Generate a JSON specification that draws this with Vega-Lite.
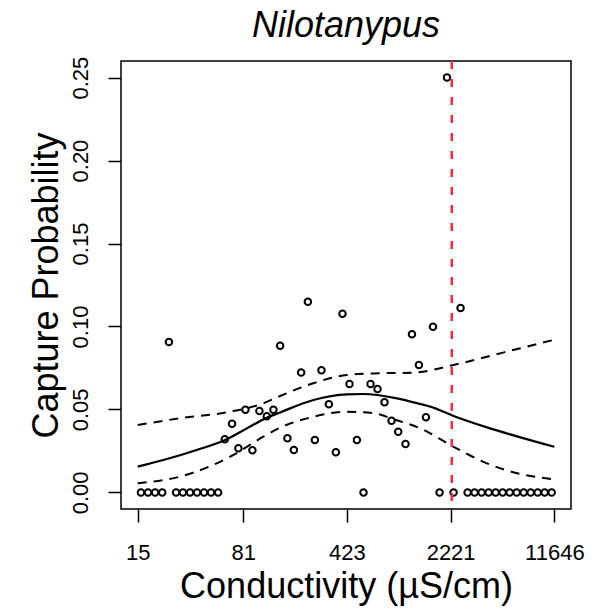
{
  "$schema": "https://vega.github.io/schema/vega-lite/v6.json",
  "width": 450,
  "height": 448,
  "autosize": {"type": "none"},
  "padding": {"left": 121, "top": 61, "right": 39, "bottom": 100},
  "background": "white",
  "config": {
    "view": {"stroke": "black", "strokeWidth": 1.5},
    "font": "Liberation Sans"
  },
  "title": {
    "text": "Nilotanypus",
    "font": "Liberation Sans",
    "fontStyle": "italic",
    "fontWeight": "normal",
    "fontSize": 36,
    "color": "black",
    "anchor": "middle",
    "frame": "group",
    "baseline": "alphabetic",
    "offset": -17
  },
  "datasets": {
    "pts": [
      {"c": 15.8, "p": 0}, {"c": 17.7, "p": 0}, {"c": 19.8, "p": 0}, {"c": 22.2, "p": 0},
      {"c": 27.7, "p": 0}, {"c": 30.9, "p": 0}, {"c": 34.6, "p": 0}, {"c": 38.7, "p": 0},
      {"c": 43.3, "p": 0}, {"c": 48.4, "p": 0}, {"c": 54.2, "p": 0},
      {"c": 552.6, "p": 0}, {"c": 1862, "p": 0}, {"c": 2329, "p": 0},
      {"c": 2913, "p": 0}, {"c": 3258, "p": 0}, {"c": 3644, "p": 0}, {"c": 4076, "p": 0},
      {"c": 4558, "p": 0}, {"c": 5098, "p": 0}, {"c": 5702, "p": 0}, {"c": 6377, "p": 0},
      {"c": 7133, "p": 0}, {"c": 7978, "p": 0}, {"c": 8923, "p": 0}, {"c": 9977, "p": 0},
      {"c": 11158, "p": 0},
      {"c": 24.7, "p": 0.0907}, {"c": 60.3, "p": 0.032}, {"c": 67.7, "p": 0.0414},
      {"c": 74.9, "p": 0.0266}, {"c": 83.8, "p": 0.0498}, {"c": 93.7, "p": 0.0254},
      {"c": 104.8, "p": 0.0491}, {"c": 117.9, "p": 0.0459}, {"c": 131.1, "p": 0.0498},
      {"c": 145.9, "p": 0.0884}, {"c": 163.9, "p": 0.0326}, {"c": 181.6, "p": 0.0256},
      {"c": 204.1, "p": 0.0722}, {"c": 227.2, "p": 0.1149}, {"c": 254.1, "p": 0.0316},
      {"c": 282.3, "p": 0.0736}, {"c": 317.8, "p": 0.0531}, {"c": 355.4, "p": 0.0242},
      {"c": 394.9, "p": 0.1077}, {"c": 441.8, "p": 0.0653}, {"c": 497.2, "p": 0.0316},
      {"c": 617.9, "p": 0.0653}, {"c": 691, "p": 0.0623}, {"c": 772.9, "p": 0.0543},
      {"c": 864.5, "p": 0.0432}, {"c": 962.1, "p": 0.0366}, {"c": 1081, "p": 0.0292},
      {"c": 1198, "p": 0.0953}, {"c": 1339, "p": 0.0768}, {"c": 1498, "p": 0.0453},
      {"c": 1676, "p": 0.0999}, {"c": 2096, "p": 0.25}, {"c": 2604, "p": 0.1112}
    ],
    "fit": [
      {"c": 15, "p": 0.0155}, {"c": 22.6, "p": 0.0195}, {"c": 38.5, "p": 0.0256},
      {"c": 60.6, "p": 0.0316}, {"c": 85.7, "p": 0.0386}, {"c": 117.9, "p": 0.0450},
      {"c": 145.9, "p": 0.0482}, {"c": 248.5, "p": 0.0557}, {"c": 423.8, "p": 0.0591},
      {"c": 552.6, "p": 0.0593}, {"c": 942.5, "p": 0.0567}, {"c": 1368, "p": 0.0533},
      {"c": 1605, "p": 0.0517}, {"c": 2329, "p": 0.0461}, {"c": 3972, "p": 0.0392},
      {"c": 6766, "p": 0.0332}, {"c": 11646, "p": 0.0275}
    ],
    "bands": [
      {"band": "upper", "c": 15, "p": 0.0406}, {"band": "upper", "c": 29.5, "p": 0.0447},
      {"band": "upper", "c": 65.6, "p": 0.0486}, {"band": "upper", "c": 111.7, "p": 0.0537},
      {"band": "upper", "c": 145.9, "p": 0.0581}, {"band": "upper", "c": 248.5, "p": 0.0658},
      {"band": "upper", "c": 423.8, "p": 0.0708}, {"band": "upper", "c": 721.8, "p": 0.0718},
      {"band": "upper", "c": 1229, "p": 0.0722}, {"band": "upper", "c": 2329, "p": 0.0768},
      {"band": "upper", "c": 3972, "p": 0.0818}, {"band": "upper", "c": 6766, "p": 0.0869},
      {"band": "upper", "c": 11646, "p": 0.0920},
      {"band": "lower", "c": 15, "p": 0.0055}, {"band": "lower", "c": 29.5, "p": 0.0095},
      {"band": "lower", "c": 65.6, "p": 0.0215}, {"band": "lower", "c": 111.7, "p": 0.0336},
      {"band": "lower", "c": 145.9, "p": 0.0390}, {"band": "lower", "c": 248.5, "p": 0.0456},
      {"band": "lower", "c": 423.8, "p": 0.0486}, {"band": "lower", "c": 648.2, "p": 0.0477},
      {"band": "lower", "c": 892.5, "p": 0.0441}, {"band": "lower", "c": 1368, "p": 0.0386},
      {"band": "lower", "c": 2329, "p": 0.0275}, {"band": "lower", "c": 3972, "p": 0.0175},
      {"band": "lower", "c": 6766, "p": 0.0111}, {"band": "lower", "c": 11646, "p": 0.0079}
    ],
    "vline": [{"c": 2262}]
  },
  "encoding": {
    "x": {
      "field": "c",
      "type": "quantitative",
      "scale": {"type": "log", "domain": [11.49, 15190], "nice": false, "zero": false},
      "axis": {
        "values": [15, 81, 423, 2221, 11646],
        "format": "d",
        "title": "Conductivity (µS/cm)",
        "grid": false,
        "domain": false,
        "ticks": true,
        "tickSize": 13,
        "tickWidth": 1.5,
        "tickColor": "black",
        "labelFont": "Liberation Sans",
        "labelFontSize": 22,
        "labelColor": "black",
        "labelBaseline": "alphabetic",
        "labelAlign": "center",
        "labelPadding": 37,
        "labelOverlap": false,
        "labelFlush": false,
        "titleFont": "Liberation Sans",
        "titleFontSize": 36,
        "titleFontWeight": "normal",
        "titleColor": "black",
        "titleBaseline": "alphabetic",
        "titleAlign": "center",
        "titleX": 225,
        "titleY": 88
      }
    },
    "y": {
      "field": "p",
      "type": "quantitative",
      "scale": {"domain": [-0.01, 0.26], "nice": false, "zero": false},
      "axis": {
        "values": [0, 0.05, 0.1, 0.15, 0.2, 0.25],
        "format": ".2f",
        "title": "Capture Probability",
        "grid": false,
        "domain": false,
        "tickSize": 13,
        "tickWidth": 1.5,
        "tickColor": "black",
        "labelFont": "Liberation Sans",
        "labelFontSize": 22,
        "labelColor": "black",
        "labelAngle": -90,
        "labelAlign": "center",
        "labelBaseline": "alphabetic",
        "labelPadding": 21,
        "labelOverlap": false,
        "labelFlush": false,
        "titleFont": "Liberation Sans",
        "titleFontSize": 36,
        "titleFontWeight": "normal",
        "titleColor": "black",
        "titleAngle": -90,
        "titleAlign": "center",
        "titleBaseline": "alphabetic",
        "titleX": -64,
        "titleY": 224
      }
    }
  },
  "layer": [
    {
      "data": {"name": "bands"},
      "mark": {"type": "line", "color": "black", "strokeWidth": 2, "strokeDash": [9, 7], "interpolate": "monotone"},
      "encoding": {"detail": {"field": "band", "type": "nominal"}}
    },
    {
      "data": {"name": "fit"},
      "mark": {"type": "line", "color": "black", "strokeWidth": 2.2, "interpolate": "monotone"},
      "encoding": {}
    },
    {
      "data": {"name": "pts"},
      "mark": {"type": "point", "shape": "circle", "filled": false, "color": "black", "strokeWidth": 2, "size": 42, "opacity": 1},
      "encoding": {}
    },
    {
      "data": {"name": "vline"},
      "mark": {"type": "rule", "color": "#ef2d3c", "strokeWidth": 2.5, "strokeDash": [8, 10]},
      "encoding": {"y": {"value": 0}, "y2": {"value": 448}}
    }
  ]
}
